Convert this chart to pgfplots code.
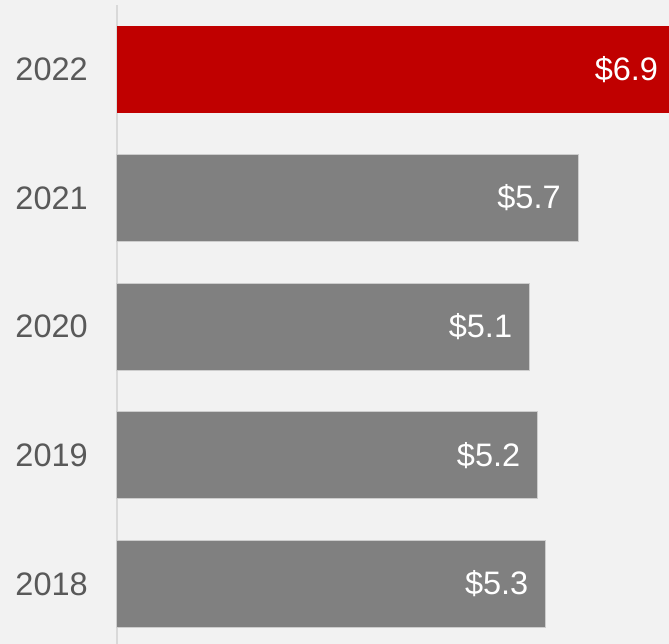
\documentclass[border=0pt]{standalone}
\usepackage{fontspec}
\setmainfont{Liberation Sans}
\usepackage{pgfplots}
\pgfplotsset{compat=1.18}
\definecolor{bgc}{HTML}{F2F2F2}
\definecolor{barred}{HTML}{C00000}
\definecolor{bargray}{HTML}{808080}
\definecolor{txtgray}{HTML}{595959}
\definecolor{axgray}{HTML}{D9D9D9}

\begin{document}
\begin{tikzpicture}
\fill[bgc] (-117pt,0pt) rectangle (552pt,644pt);
\path[use as bounding box] (-117pt,0pt) rectangle (552pt,644pt);
\begin{axis}[
  at={(0pt,0pt)}, anchor=south west,
  scale only axis, width=552pt, height=639pt,
  clip=false,
  xbar, bar width=87pt, bar shift=0pt,
  xmin=0, xmax=6.823,
  ymin=-0.4666, ymax=4.501,
  axis x line=none, axis y line*=left,
  y axis line style={axgray, line width=1.5pt, -},
  ytick={0,1,2,3,4},
  yticklabels={2018,2019,2020,2021,2022},
  major tick length=0pt,
  /pgf/number format/assume math mode=true,
  yticklabel style={font=\fontsize{32.5}{38}\selectfont, text=txtgray,
    anchor=east, inner sep=0pt, xshift=-29pt},
  point meta=x,
  nodes near coords={\$\pgfmathprintnumber[fixed,fixed zerofill,precision=1]{\pgfplotspointmeta}},
  every node near coord/.style={anchor=east, inner sep=0pt, xshift=-17pt,
    text=white, font=\fontsize{32.5}{38}\selectfont},
]
\addplot[fill=bargray, draw={rgb,255:red,205;green,205;blue,205}, line width=1pt]
  coordinates {(5.3,0) (5.2,1) (5.1,2) (5.7,3)};
\addplot[fill=barred, draw=none]
  coordinates {(6.9,4)};
\end{axis}
\end{tikzpicture}
\end{document}
